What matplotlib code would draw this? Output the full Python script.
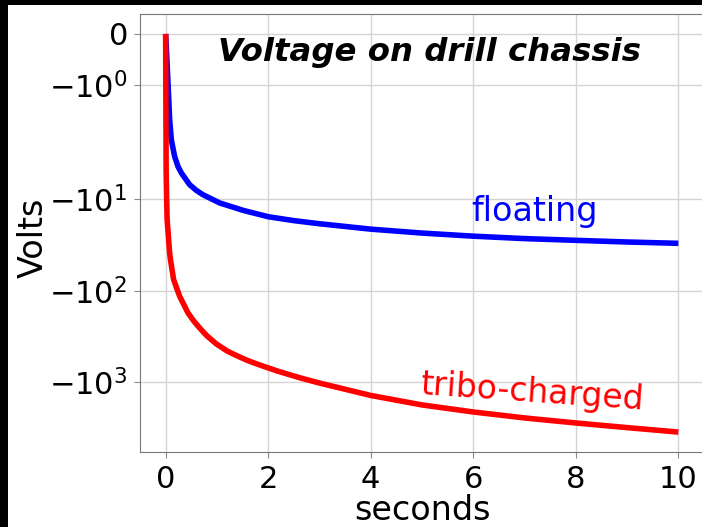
import numpy as np
import matplotlib
matplotlib.use("Agg")
import matplotlib.pyplot as plt
from matplotlib.patches import Rectangle

# values (seconds, volts)
t_floating = [0, 0.02, 0.05, 0.078, 0.111, 0.143, 0.176, 0.24, 0.307, 0.469, 0.6, 0.729,
              1.055, 1.51, 2.0, 2.5, 3.0, 4.0, 5.0, 6.0, 7.0, 8.0, 9.0, 10.0]
v_floating = [0, -0.4, -1.05, -1.69, -2.23, -2.75, -3.4, -4.36, -5.15, -6.92, -8.0, -8.91,
              -10.96, -13.2, -15.5, -17.1, -18.5, -21.2, -23.4, -25.3, -26.9, -28.1, -29.3, -30.3]

t_tribo = [0, 0.01, 0.02, 0.029, 0.078, 0.094, 0.156, 0.273, 0.436, 0.55, 0.664, 0.8,
           0.99, 1.2, 1.38, 1.6, 1.836, 2.19, 2.62, 3.0, 4.0, 5.0, 6.0, 7.0, 8.0, 9.0, 10.0]
v_tribo = [0, -5, -10.1, -16.7, -38.6, -45.7, -75.7, -115, -175, -215, -256, -310,
           -383, -457, -512, -581, -650, -760, -898, -1024, -1400, -1778, -2123, -2467,
           -2800, -3148, -3524]

x_ticks = [0, 2, 4, 6, 8, 10]
y_ticks = [0, -1, -10, -100, -1000]

fig = plt.figure(figsize=(7.02, 5.27), dpi=100, facecolor="white")
# thin black bands on top and left
fig.patches.append(Rectangle((0, 1 - 5 / 527), 1, 5 / 527, transform=fig.transFigure,
                             facecolor="black", edgecolor="none", zorder=5))
fig.patches.append(Rectangle((0, 0), 8 / 702, 1, transform=fig.transFigure,
                             facecolor="black", edgecolor="none", zorder=5))

ax = fig.add_axes([140 / 702, 75 / 527, 564 / 702, 438 / 527])
ax.plot(t_floating, v_floating, color="blue", lw=4, solid_capstyle="butt",
        solid_joinstyle="round")
ax.plot(t_tribo, v_tribo, color="red", lw=4, solid_capstyle="butt",
        solid_joinstyle="round")
ax.set_yscale("symlog", linthresh=2)

ax.set_xticks(x_ticks)
ax.set_yticks(y_ticks)
ax.yaxis.set_minor_locator(matplotlib.ticker.NullLocator())
ax.tick_params(labelsize=22, color="#888888", length=4, pad=5)
ax.grid(True, color="#d4d4d4", lw=1)
for s in ax.spines.values():
    s.set_color("#777777")

ax.set_xlabel("seconds", fontsize=24, labelpad=0)
ax.set_ylabel("Volts", fontsize=24)
ax.yaxis.set_label_coords(-0.16, 0.49)

ax.text(0.514, 0.913, "Voltage on drill chassis", transform=ax.transAxes,
        fontsize=23.3, fontweight="bold", fontstyle="italic", ha="center", va="center")
ax.text(7.19, -13.6, "floating", color="blue", fontsize=24, ha="center", va="center")
ax.text(7.15, -1297, "tribo-charged", color="red", fontsize=23.7, ha="center", va="center",
        rotation=-4, rotation_mode="anchor")

fig.savefig("out.png", dpi=100, facecolor=fig.get_facecolor())
